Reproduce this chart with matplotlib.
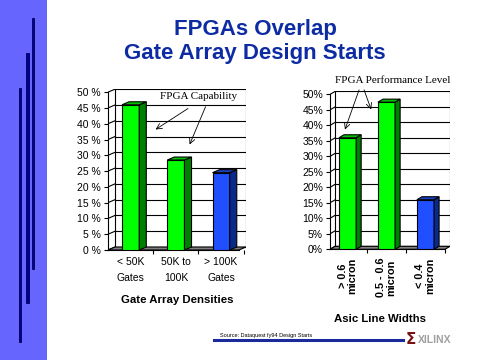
import matplotlib
matplotlib.use('Agg')
import matplotlib.pyplot as plt
from matplotlib import font_manager
from matplotlib.patches import Polygon, Rectangle
from matplotlib.lines import Line2D

# data
left_cats = ['< 50K\nGates', '50K to\n100K', '> 100K\nGates']
left_vals = [46, 28.5, 24.5]
left_colors = ['green', 'green', 'blue']
right_cats = ['> 0.6\nmicron', '0.5 - 0.6\nmicron', '< 0.4\nmicron']
right_vals = [36, 47.5, 16]
right_colors = ['green', 'green', 'blue']
yticks = list(range(0, 55, 5))

faces = {'green': ('#00ff00', '#008000', '#00c000'),
         'blue': ('#1f4fff', '#0a2a8a', '#1a40c0')}

W, H = 480, 360
fig = plt.figure(figsize=(4.8, 3.6), dpi=100)
fig.patch.set_facecolor('white')

installed = {f.name for f in font_manager.fontManager.ttflist}
has_narrow = 'Liberation Sans Narrow' in installed
narrow = 'Liberation Sans Narrow' if has_narrow else 'Liberation Sans'
shrink = 1.0 if has_narrow else 0.82


def box(x0, y0, x1, y1):
    return [x0 / W, 1 - y1 / H, (x1 - x0) / W, (y1 - y0) / H]


def fx(x):
    return x / W


def fy(y):
    return 1 - y / H


# sidebar
fig.patches.append(Rectangle((0, 0), fx(47), 1, transform=fig.transFigure,
                             facecolor='#6666ff', edgecolor='none', zorder=0))
for xc, y0, y1 in [(20, 88, 342), (27.5, 53, 303), (33, 18, 269)]:
    fig.patches.append(Rectangle((fx(xc - 1.3), fy(y1)), fx(2.6), fy(y0) - fy(y1),
                                 transform=fig.transFigure, facecolor='#000099',
                                 edgecolor='#000055', lw=0.6, zorder=1))

title_kw = dict(ha='center', va='center', fontsize=16, fontweight='bold',
                color='#0d2ca3', family='Liberation Sans')
fig.text(fx(255), fy(30), 'FPGAs Overlap', **title_kw)
fig.text(fx(255), fy(53), 'Gate Array Design Starts', **title_kw)


def bar3d(ax, cats, vals, colors, width, dx, dy, pct_fmt, label_kw):
    xs = list(range(len(vals)))
    xmin, xmax = ax.get_xlim()
    top = 50
    # back wall and side wall grid
    for t in yticks:
        ax.plot([xmin + dx, xmax], [t + dy, t + dy], color='k', lw=0.8, zorder=1)
        ax.plot([xmin, xmin + dx], [t, t + dy], color='k', lw=0.8, zorder=1)
    ax.plot([xmin + dx, xmin + dx], [dy, top + dy], color='k', lw=0.8, zorder=1)
    ax.plot([xmax, xmax], [dy, top + dy], color='k', lw=0.8, zorder=1)
    # floor
    ax.add_patch(Polygon([(xmin, 0), (xmin + dx, dy), (xmax, dy), (xmax - dx, 0)],
                         closed=True, facecolor='#808080', edgecolor='k', lw=0.8,
                         zorder=2))
    # bars
    for x, v, c in zip(xs, vals, colors):
        front, side, topc = faces[c]
        ax.bar(x, v, width=width, color=front, edgecolor='k', lw=0.8, zorder=3)
        r = x + width / 2
        l = x - width / 2
        ax.add_patch(Polygon([(r, 0), (r + dx, dy), (r + dx, v + dy), (r, v)],
                             closed=True, facecolor=side, edgecolor='k', lw=0.8,
                             zorder=3))
        ax.add_patch(Polygon([(l, v), (l + dx, v + dy), (r + dx, v + dy), (r, v)],
                             closed=True, facecolor=topc, edgecolor='k', lw=0.8,
                             zorder=3))
    for s in ['top', 'right']:
        ax.spines[s].set_visible(False)
    ax.spines['left'].set_bounds(0, top)
    ax.spines['bottom'].set_bounds(xmin, xmax - dx)
    ax.spines['left'].set_linewidth(0.8)
    ax.spines['bottom'].set_linewidth(0.8)
    ax.set_yticks(yticks)
    ax.set_yticklabels([pct_fmt.format(t) for t in yticks], fontsize=7.5,
                       family='Liberation Sans')
    ax.tick_params(axis='y', length=3, width=0.8, pad=2)
    ax.set_xticks(xs)
    ax.set_xticklabels(cats, **label_kw)
    ax.tick_params(axis='x', which='major', length=0)
    ax.set_xticks([x + 0.5 for x in xs], minor=True)
    ax.tick_params(axis='x', which='minor', length=3, width=0.8)
    ax.patch.set_alpha(0)


# left chart
ax1 = fig.add_axes(box(108, 89, 246, 250))
ax1.set_xlim(-0.5, 2.55)
ax1.set_ylim(0, 51.0)
bar3d(ax1, left_cats, left_vals, left_colors, 0.38, 0.156, 0.95, '{} %',
      dict(fontsize=7.5, family='Liberation Sans', linespacing=1.7))
ax1.tick_params(axis='x', which='major', pad=5)
ax1.annotate('', xy=(0.5, 37.7), xytext=(1.32, 45.3),
             arrowprops=dict(arrowstyle='->', lw=0.6, color='k'))
ax1.annotate('', xy=(1.28, 32.6), xytext=(1.68, 46.2),
             arrowprops=dict(arrowstyle='->', lw=0.6, color='k'))
ax1.text(1.5, 48.5, 'FPGA Capability', ha='center', va='center', fontsize=8,
         family='Liberation Serif', zorder=5)

# right chart
ax2 = fig.add_axes(box(330, 91, 450, 249.3))
ax2.set_xlim(-0.45, 2.63)
ax2.set_ylim(0, 51.1)
bar3d(ax2, right_cats, right_vals, right_colors, 0.44, 0.13, 0.97, '{}%',
      dict(fontsize=9.6 * shrink, family=narrow, fontweight='bold', rotation=90,
           linespacing=1.0))
ax2.tick_params(axis='x', which='major', pad=6)
ax2.annotate('', xy=(-0.09, 37.8), xytext=(0.32, 52.3), annotation_clip=False,
             arrowprops=dict(arrowstyle='->', lw=0.6, color='k'))
ax2.annotate('', xy=(0.63, 44.3), xytext=(0.4, 52.3), annotation_clip=False,
             arrowprops=dict(arrowstyle='->', lw=0.6, color='k'))
ax2.text(1.17, 54.6, 'FPGA Performance Level', ha='center', va='center',
         fontsize=8, family='Liberation Serif', zorder=5, clip_on=False)

# axis titles
fig.text(fx(177), fy(300), 'Gate Array Densities', ha='center', va='center',
         fontsize=10 * shrink, fontweight='bold', family=narrow)
fig.text(fx(380), fy(319), 'Asic Line Widths', ha='center', va='center',
         fontsize=10 * shrink, fontweight='bold', family=narrow)

# footer
fig.text(fx(220), fy(335), 'Source: Dataquest fy94 Design Starts', ha='left',
         va='center', fontsize=4, family=narrow)
fig.add_artist(Line2D([fx(214), fx(403)], [fy(340), fy(340)], color='#1a2a9a',
                      lw=2.2, transform=fig.transFigure))
fig.text(fx(411), fy(340), 'Σ', ha='center', va='center', fontsize=11,
         fontweight='bold', color='#7a1010', family='DejaVu Sans')
fig.text(fx(435), fy(340), 'XILINX', ha='center', va='center', fontsize=7.5,
         fontweight='bold', color='#a0a0a0', family=narrow)

fig.savefig('out.png', dpi=100)
